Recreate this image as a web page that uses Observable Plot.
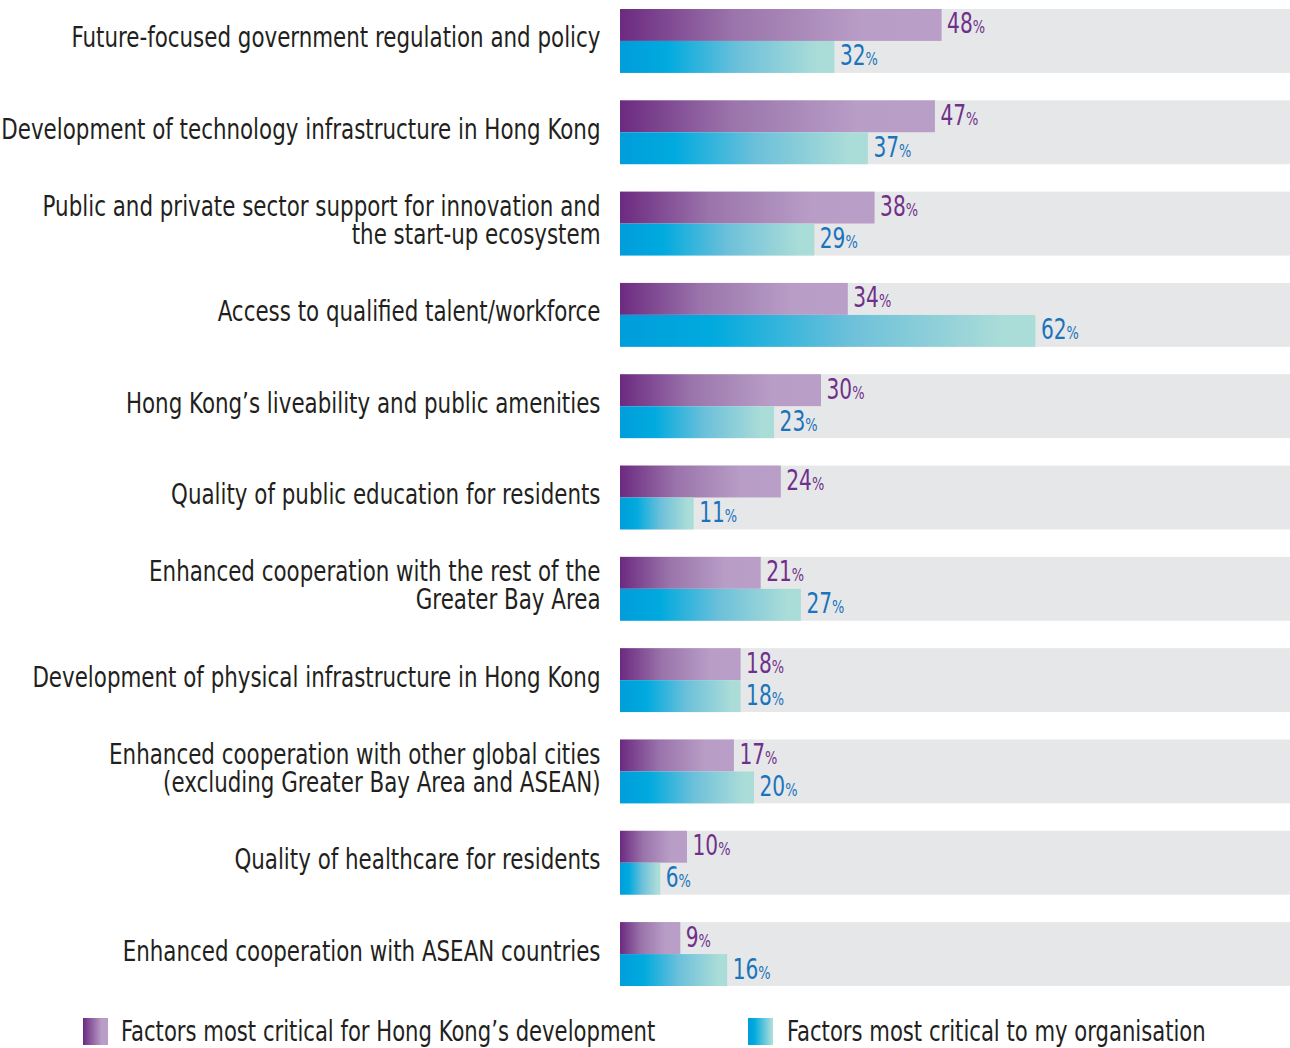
<!DOCTYPE html>
<html>
<head>
<meta charset="utf-8">
<script src="https://cdn.jsdelivr.net/npm/d3@7"></script>
<script src="https://cdn.jsdelivr.net/npm/@observablehq/plot@0.6"></script>
<style>
  html, body { margin: 0; padding: 0; background: #fff; }
  #wrap { position: relative; width: 1290px; }
  .cf { font-family: "Liberation Sans Narrow", "Arial Narrow", "DejaVu Sans Condensed", sans-serif; }
  #legend { position: relative; height: 48px; width: 1290px; }
  .sw { position: absolute; top: 18px; width: 25px; height: 27px; }
  .lt { position: absolute; top: 14px; font-size: 28px; color: #231f20; line-height: 36px; white-space: nowrap;
        transform: scaleX(0.84); transform-origin: left center; }
</style>
</head>
<body>
<div id="wrap" class="cf">
  <div id="chart"></div>
  <div id="legend">
    <div class="sw" style="left:83px;background:linear-gradient(to right,#6c2a80,#b89dc6 75%);"></div>
    <div class="lt" id="l1" style="left:121px;"></div>
    <div class="sw" style="left:748px;background:linear-gradient(to right,#009ddb,#00aade 25%,#aadcd8 95%);"></div>
    <div class="lt" id="l2" style="left:787px;"></div>
  </div>
</div>
<script>
const categories = [
  "Future-focused government regulation and policy",
  "Development of technology infrastructure in Hong Kong",
  "Public and private sector support for innovation and\nthe start-up ecosystem",
  "Access to qualified talent/workforce",
  "Hong Kong\u2019s liveability and public amenities",
  "Quality of public education for residents",
  "Enhanced cooperation with the rest of the\nGreater Bay Area",
  "Development of physical infrastructure in Hong Kong",
  "Enhanced cooperation with other global cities\n(excluding Greater Bay Area and ASEAN)",
  "Quality of healthcare for residents",
  "Enhanced cooperation with ASEAN countries"
];
const hkDevelopment = [48, 47, 38, 34, 30, 24, 21, 18, 17, 10, 9];
const myOrganisation = [32, 37, 29, 62, 23, 11, 27, 18, 20, 6, 16];
const seriesNames = ["Factors most critical for Hong Kong\u2019s development", "Factors most critical to my organisation"];
const fullScale = 100;

const rows = categories.map((c, i) => ({category: c, hk: hkDevelopment[i], org: myOrganisation[i], full: fullScale}));

document.getElementById("l1").textContent = seriesNames[0];
document.getElementById("l2").textContent = seriesNames[1];

const chart = Plot.plot({
  width: 1290,
  height: 1000,
  marginLeft: 620,
  marginRight: 0,
  marginTop: 9,
  marginBottom: 14,
  style: {fontFamily: '"Liberation Sans Narrow", "Arial Narrow", "DejaVu Sans Condensed", sans-serif', background: "#fff"},
  x: {domain: [0, 100], axis: null},
  y: {domain: categories, paddingInner: 0.3, paddingOuter: 0, round: false, label: null},
  marks: [
    Plot.barX(rows, {y: "category", x: "full", fill: "#e6e7e9"}),
    Plot.barX(rows, {y: "category", x: "hk", fill: "url(#gradP)", insetBottom: 32}),
    Plot.barX(rows, {y: "category", x: "org", fill: "url(#gradB)", insetTop: 32}),
    Plot.text(rows, {y: "category", x: "hk", text: d => String(d.hk), dx: 5, dy: -17, textAnchor: "start", fontSize: 28, fill: "#70308a", className: "vals"}),
    Plot.text(rows, {y: "category", x: "org", text: d => String(d.org), dx: 5, dy: 15, textAnchor: "start", fontSize: 28, fill: "#1a74bb", className: "vals"}),
    Plot.axisY({tickSize: 0, tickPadding: 20, fontSize: 28, lineHeight: 1.0, dy: -3, fill: "#231f20", label: null, className: "ylab"})
  ]
});

chart.insertAdjacentHTML("afterbegin",
  `<defs>
    <linearGradient id="gradP" x1="0" x2="1" y1="0" y2="0">
      <stop offset="0" stop-color="#6c2a80"/>
      <stop offset="0.35" stop-color="#9a74ab"/>
      <stop offset="0.75" stop-color="#b89dc6"/>
      <stop offset="1" stop-color="#b99ec7"/>
    </linearGradient>
    <linearGradient id="gradB" x1="0" x2="1" y1="0" y2="0">
      <stop offset="0" stop-color="#009ddb"/>
      <stop offset="0.22" stop-color="#00aade"/>
      <stop offset="0.55" stop-color="#6cc0da"/>
      <stop offset="0.92" stop-color="#aadcd8"/>
      <stop offset="1" stop-color="#abddd8"/>
    </linearGradient>
  </defs>`);

function condense(sel, s) {
  d3.select(chart).selectAll(sel).each(function() {
    const tr = this.getAttribute("transform");
    if (tr) {
      this.setAttribute("transform", tr + ` scale(${s},1)`);
    } else {
      const x = +this.getAttribute("x") || 0;
      this.setAttribute("transform", `translate(${x},0) scale(${s},1) translate(${-x},0)`);
    }
  });
}

d3.select(chart).selectAll("g.vals text").each(function() {
  d3.select(this).append("tspan").attr("font-size", 18).text("%");
});
condense("g.vals text", 0.8);
condense("g.ylab text", 0.85);

document.getElementById("chart").appendChild(chart);
</script>
</body>
</html>
